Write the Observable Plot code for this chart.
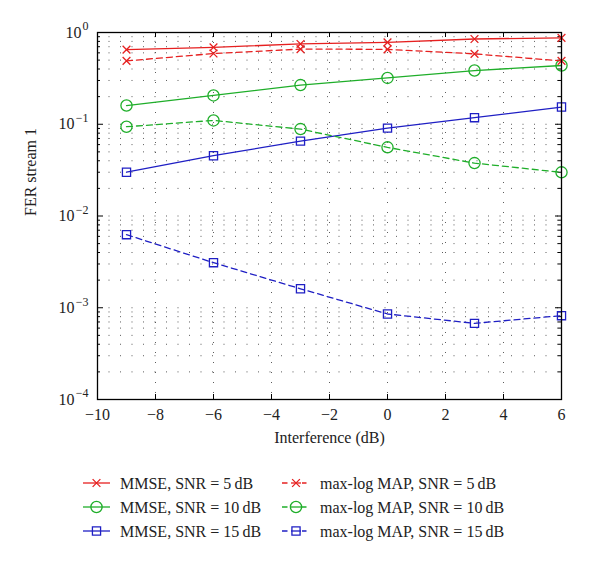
<!DOCTYPE html>
<html>
<head>
<meta charset="utf-8">
<script src="https://cdn.jsdelivr.net/npm/d3@7"></script>
<script src="https://cdn.jsdelivr.net/npm/@observablehq/plot@0.6"></script>
<style>
  html, body { margin: 0; padding: 0; background: #fff; }
  #chart svg { display: block; }
</style>
</head>
<body>
<div id="chart"></div>
<script>
// ---- data ----
const interference = [-9, -6, -3, 0, 3, 6];
const mmse5    = [0.65, 0.69, 0.75, 0.78, 0.85, 0.875];
const maxlog5  = [0.49, 0.59, 0.66, 0.655, 0.585, 0.49];
const mmse10   = [0.16, 0.206, 0.267, 0.32, 0.385, 0.437];
const maxlog10 = [0.094, 0.11, 0.0885, 0.056, 0.0377, 0.0299];
const mmse15   = [0.030, 0.0454, 0.0655, 0.0907, 0.118, 0.154];
const maxlog15 = [0.00626, 0.0031, 0.00161, 0.000855, 0.000676, 0.00082];
const seriesNames = [
  "MMSE, SNR = 5\u2009dB", "MMSE, SNR = 10\u2009dB", "MMSE, SNR = 15\u2009dB",
  "max-log MAP, SNR = 5\u2009dB", "max-log MAP, SNR = 10\u2009dB", "max-log MAP, SNR = 15\u2009dB"
];
const xTicks = [-10, -8, -6, -4, -2, 0, 2, 4, 6];
const yTicks = [1e-4, 1e-3, 1e-2, 1e-1, 1];
const yTickBase = "10";

// ---- styles ----
const RED = "#e62020", GREEN = "#1fae2a", BLUE = "#1f1fc4";
const styleOf = [
  {color: RED, symbol: "times", r: 3.6, dash: null},
  {color: GREEN, symbol: "circle", r: 5.6, dash: null},
  {color: BLUE, symbol: "square", r: 4.6, dash: null},
  {color: RED, symbol: "times", r: 3.6, dash: "6,4"},
  {color: GREEN, symbol: "circle", r: 5.6, dash: "6,4"},
  {color: BLUE, symbol: "square", r: 4.6, dash: "6,4"}
];
const seriesValues = [mmse5, mmse10, mmse15, maxlog5, maxlog10, maxlog15];

const rows = [];
seriesValues.forEach((vals, i) => {
  vals.forEach((v, j) => rows.push({series: i, x: interference[j], y: v}));
});

// grid values
const minorY = [];
for (let k = -4; k < 0; k++) for (let d = 1; d <= 9; d++) minorY.push(d * Math.pow(10, k));
const majorYInner = yTicks.slice(1, -1);
const majorXInner = xTicks.slice(1, -1);
const minorYOnly = minorY.filter(v => !yTicks.includes(v));

const W = 600, H = 470;
const mt = 32, mb = 71, ml = 97, mr = 39;
const iw = W - ml - mr, ih = H - mt - mb;

const expText = v => { const e = Math.round(Math.log10(v)); return e < 0 ? "\u2212" + Math.abs(e) : String(e); };
const FONT = "'Liberation Serif', 'Times New Roman', 'DejaVu Serif', serif";

const marks = [
  // dotted grid
  Plot.ruleY(minorY.filter(v => v > 1e-4 && v < 1), {stroke: "#333", strokeWidth: 1, strokeDasharray: "1,10.5", strokeOpacity: 0.8}),
  Plot.ruleX(majorXInner, {stroke: "#333", strokeWidth: 1, strokeDasharray: "1,9", strokeOpacity: 0.8}),
  // inward ticks
  Plot.tickX(majorXInner, {stroke: "#000", insetTop: ih - 5}),
  Plot.tickX(majorXInner, {stroke: "#000", insetBottom: ih - 5}),
  Plot.tickY(majorYInner, {stroke: "#000", insetRight: iw - 6}),
  Plot.tickY(majorYInner, {stroke: "#000", insetLeft: iw - 6}),
  Plot.tickY(minorYOnly, {stroke: "#000", insetRight: iw - 3}),
  Plot.tickY(minorYOnly, {stroke: "#000", insetLeft: iw - 3}),
  // x axis labels
  Plot.axisX({ticks: xTicks, tickSize: 0, tickPadding: 9, tickFormat: d => d < 0 ? "\u2212" + Math.abs(d) : String(d), label: null, fontSize: 16}),
  // y axis labels: base "10" plus raised exponent
  Plot.text(yTicks.filter(v => v >= 1), {y: d => d, frameAnchor: "left", dx: -16, textAnchor: "end", text: () => yTickBase, fontSize: 16}),
  Plot.text(yTicks.filter(v => v < 1), {y: d => d, frameAnchor: "left", dx: -23, textAnchor: "end", text: () => yTickBase, fontSize: 16}),
  Plot.text(yTicks, {y: d => d, frameAnchor: "left", dx: -9, dy: -6, textAnchor: "end", text: expText, fontSize: 12}),
  Plot.text(["Interference (dB)"], {frameAnchor: "bottom", dy: 43, fontSize: 16}),
  Plot.text(["FER stream 1"], {frameAnchor: "left", dx: -67, rotate: -90, fontSize: 16}),
];

seriesValues.forEach((vals, i) => {
  const s = styleOf[i];
  const data = rows.filter(d => d.series === i);
  marks.push(Plot.line(data, {x: "x", y: "y", stroke: s.color, strokeWidth: 1.3, strokeDasharray: s.dash}));
  marks.push(Plot.dot(data, {x: "x", y: "y", stroke: s.color, fill: "none", symbol: s.symbol, r: s.r, strokeWidth: 1.3}));
});
marks.push(Plot.frame({stroke: "#000", strokeWidth: 1.3}));

const chart = Plot.plot({
  width: W, height: H,
  marginTop: mt, marginBottom: mb, marginLeft: ml, marginRight: mr,
  style: {fontFamily: FONT, fontSize: "16px", color: "#222", background: "#fff"},
  x: {domain: [-10, 6]},
  y: {type: "log", domain: [1e-4, 1], axis: null},
  marks
});
document.getElementById("chart").appendChild(chart);

// ---- legend ----
const legendHeight = 562 - H;
const lg = d3.select("#chart").append("svg")
  .attr("width", W).attr("height", legendHeight)
  .style("display", "block")
  .style("font-family", FONT).style("font-size", "16px");
const colX = [{x1: 83, x2: 110, tx: 120}, {x1: 282, x2: 310, tx: 320}];
const rowY = [13, 37, 61];
const symMap = {times: d3.symbolTimes, circle: d3.symbolCircle, square: d3.symbolSquare};
seriesNames.forEach((name, i) => {
  const s = styleOf[i];
  const c = colX[Math.floor(i / 3)], y = rowY[i % 3];
  const g = lg.append("g");
  const line = g.append("line").attr("x1", c.x1).attr("x2", c.x2).attr("y1", y).attr("y2", y)
    .attr("stroke", s.color).attr("stroke-width", 1.3);
  if (s.dash) line.attr("stroke-dasharray", "5.5,4");
  const cx = (c.x1 + c.x2) / 2;
  if (s.dash) {
    g.append("rect").attr("x", cx - 6).attr("y", y - 6).attr("width", 12).attr("height", 12).attr("fill", "#fff");
    g.append("line").attr("x1", cx - 5).attr("x2", cx + 5).attr("y1", y).attr("y2", y).attr("stroke", s.color).attr("stroke-width", 1.3);
  }
  g.append("path").attr("transform", `translate(${cx},${y})`)
    .attr("d", d3.symbol(symMap[s.symbol], Math.PI * s.r * s.r)())
    .attr("fill", "none").attr("stroke", s.color).attr("stroke-width", 1.3);
  g.append("text").attr("x", c.tx).attr("y", y).attr("dy", "0.35em").attr("fill", "#222").text(name);
});
</script>
</body>
</html>
